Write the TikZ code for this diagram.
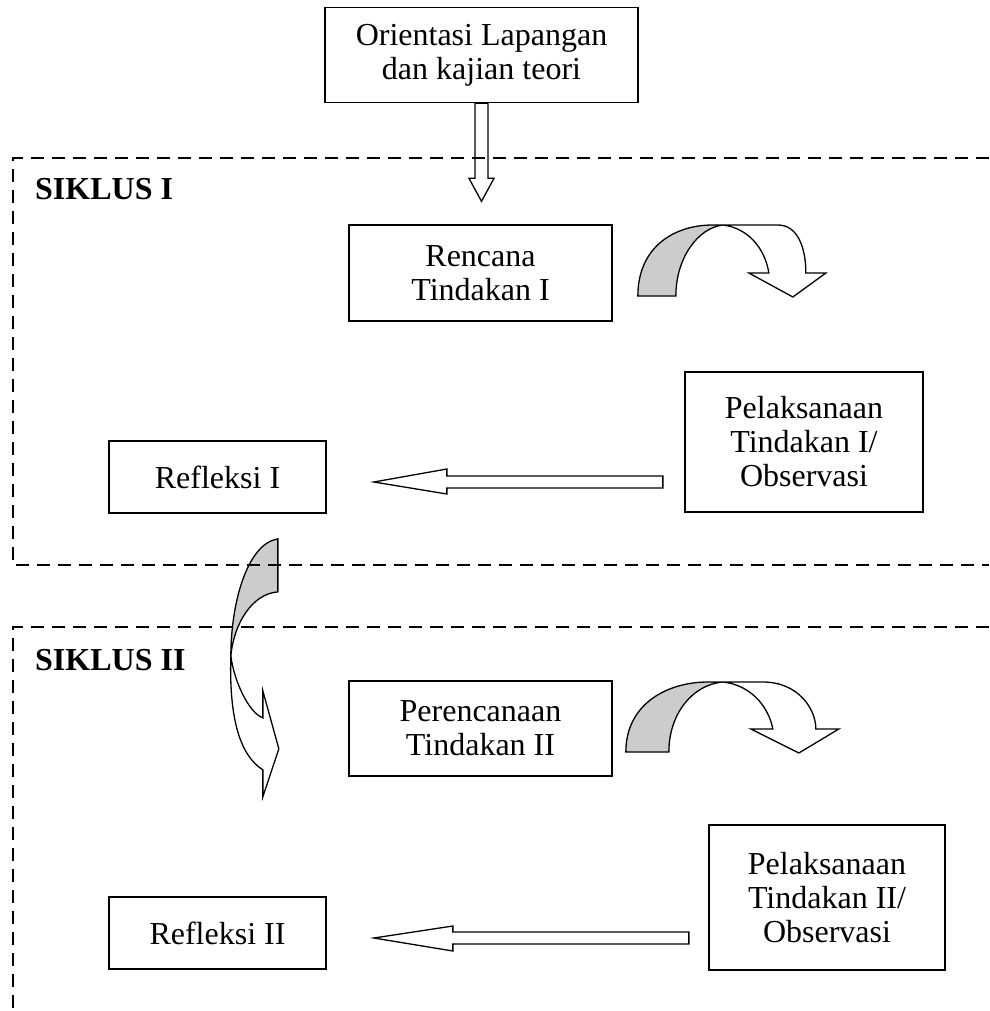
\documentclass[tikz,border=0pt]{standalone}
\usepackage{fontspec}
\setmainfont{Liberation Serif}
\usetikzlibrary{positioning}
\tikzset{
  kotak/.style={draw,line width=1.7pt,align=center,inner sep=0pt,
    font=\fontsize{32}{34}\selectfont},
  judul/.style={anchor=base west,inner sep=0pt,font=\fontsize{32}{34}\selectfont\bfseries},
  garis/.style={line width=2pt,dash pattern=on 13pt off 8pt},
  panah/.style={draw,line width=1.3pt,fill=white,line join=miter},
  panahabu/.style={panah,fill=gray!40}
}
\begin{document}
\begin{tikzpicture}[x=1pt,y=-1pt]
\useasboundingbox (0,0) rectangle (989,1011);

% kotak-kotak
\node[kotak,minimum width=313pt,minimum height=95pt] (orientasi) at (481.5,55) {Orientasi Lapangan\\dan kajian teori};
\node[kotak,minimum width=263pt,minimum height=96pt] (rencana1) at (480.5,273) {Rencana\\Tindakan I};
\node[kotak,minimum width=238pt,minimum height=140pt] (pelaksanaan1) at (804,442) {Pelaksanaan\\Tindakan I/\\Observasi};
\node[kotak,minimum width=217pt,minimum height=72pt] (refleksi1) at (217.5,477) {Refleksi I};
\node[kotak,minimum width=263pt,minimum height=95pt] (rencana2) at (480.5,728.5) {Perencanaan\\Tindakan II};
\node[kotak,minimum width=236pt,minimum height=145pt] (pelaksanaan2) at (827,897.5) {Pelaksanaan\\Tindakan II/\\Observasi};
\node[kotak,minimum width=217pt,minimum height=72pt] (refleksi2) at (217.5,933) {Refleksi II};

\node[judul] (siklus1) at (35,200) {SIKLUS I};
\node[judul] (siklus2) at (35,670) {SIKLUS II};

% panah turun
\draw[panah] (orientasi.south) ++(-6.5,0) -- ++(0,75) -- ++(-6,0) -- ++(12.5,23)
  -- ++(12.5,-23) -- ++(-6,0) -- ++(0,-75) -- cycle;

% panah ke kiri
\draw[panah] (refleksi1.east) ++(47,5) -- ++(73,-13) -- ++(0,7) -- ++(216,0)
  -- ++(0,12) -- ++(-216,0) -- ++(0,6) -- cycle;
\draw[panah] (refleksi2.east) ++(47,5) -- ++(79,-12) -- ++(0,6) -- ++(236,0)
  -- ++(0,12) -- ++(-236,0) -- ++(0,7) -- cycle;

% panah lengkung siklus I
\begin{scope}[shift={(rencana1.east)}]
  \draw[panahabu] (25,23) .. controls (25,-25) and (60,-48) .. (100,-48) -- (110,-48)
    .. controls (85,-45) and (63,-15) .. (63,23) -- cycle;
  \draw[panah] (110,-48) -- (165,-48) .. controls (185,-48) and (193,-25) .. (193,0)
    -- (213,0) -- (180,24) -- (136,0) -- (156,0)
    .. controls (152,-25) and (135,-45) .. (110,-48) -- cycle;
\end{scope}

% panah lengkung siklus II
\begin{scope}[shift={(rencana2.east)}]
  \draw[panahabu] (13,23.5) .. controls (13,-25) and (55,-46.5) .. (95,-46.5) -- (110,-46.5)
    .. controls (80,-44) and (56,-15) .. (56,23.5) -- cycle;
  \draw[panah] (110,-46.5) -- (150,-46.5) .. controls (185,-46.5) and (203,-20) .. (203,0.5)
    -- (226,0.5) -- (186,24.5) -- (138,0.5) -- (160,0.5)
    .. controls (155,-25) and (135,-44) .. (110,-46.5) -- cycle;
\end{scope}

% panah lengkung antar siklus
\begin{scope}[shift={(refleksi1.south east)}]
  \draw[panahabu] (-49,25) -- (-49,78) .. controls (-75,80) and (-93,110) .. (-96,142)
    .. controls (-96,90) and (-80,30) .. (-49,25) -- cycle;
  \draw[panah] (-96,142) .. controls (-93,167) and (-78,199) .. (-64,204) -- (-64,177)
    -- (-48,235) -- (-64,283) -- (-64,256)
    .. controls (-86,242) and (-98,207) .. (-96,142) -- cycle;
\end{scope}

% kotak putus-putus
\draw[garis] (989,158) -- (13,158) -- (13,565) -- (989,565);
\draw[garis] (989,627) -- (13,627) -- (13,1011);
\end{tikzpicture}
\end{document}
